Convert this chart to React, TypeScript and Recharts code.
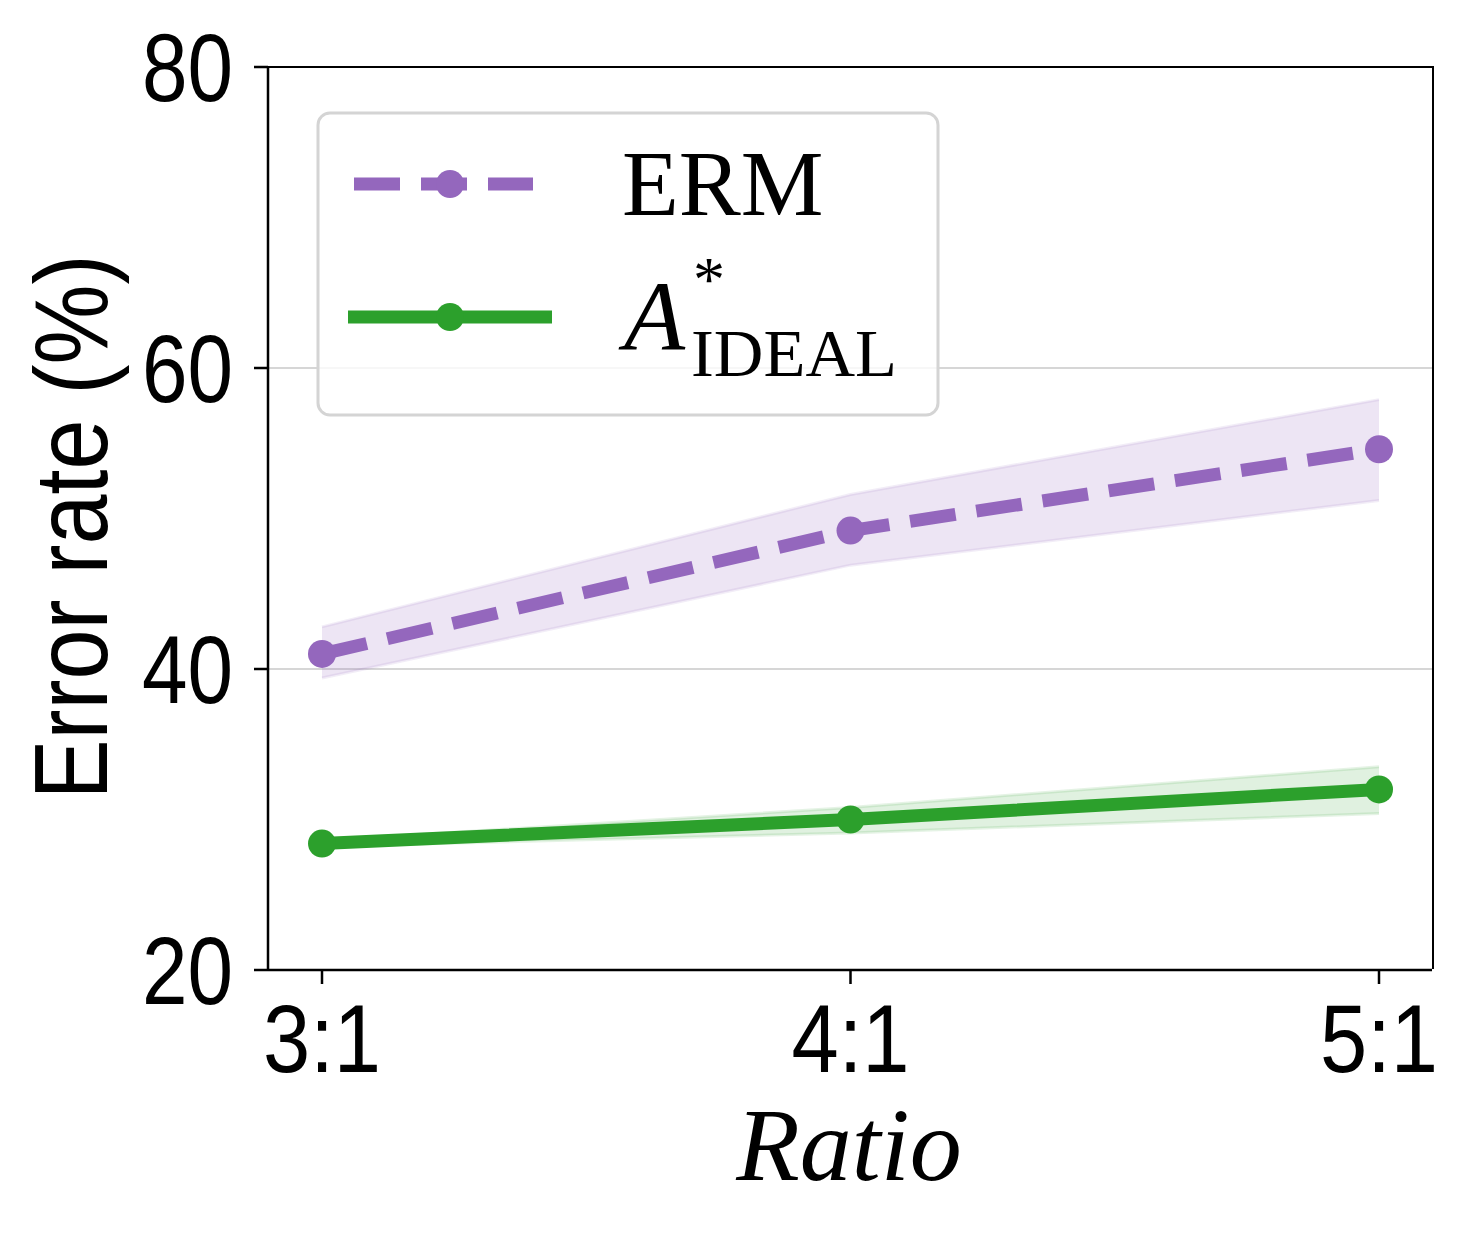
import React from 'react';
import {
  ComposedChart,
  Line,
  Area,
  XAxis,
  YAxis,
  CartesianGrid,
  Legend,
} from 'recharts';

const ratios = ['3:1', '4:1', '5:1'];
const ermMean = [41.0, 49.2, 54.6];
const ermLow = [39.4, 46.9, 51.2];
const ermHigh = [42.8, 51.6, 57.9];
const idealMean = [28.4, 30.0, 32.0];
const idealLow = [28.2, 29.1, 30.4];
const idealHigh = [28.6, 30.8, 33.5];
const yTicks = [20, 40, 60, 80];

const PURPLE = '#9467bd';
const GREEN = '#2ca02c';

const data = ratios.map((r, i) => ({
  ratio: r,
  erm: ermMean[i],
  ermBand: [ermLow[i], ermHigh[i]],
  ideal: idealMean[i],
  idealBand: [idealLow[i], idealHigh[i]],
}));

const SANS = '"Liberation Sans", Arial, sans-serif';
const SERIF = '"Liberation Serif", "Times New Roman", serif';

const YTick = (props: any) => {
  const { x, y, payload } = props;
  return (
    <text
      x={x}
      y={y}
      textAnchor="end"
      dominantBaseline="central"
      fontFamily={SANS}
      fontSize={97}
      fill="#000"
      textLength={91}
      lengthAdjust="spacingAndGlyphs"
    >
      {payload.value}
    </text>
  );
};

const XTick = (props: any) => {
  const { x, y, payload } = props;
  return (
    <text
      x={x}
      y={y + 68}
      textAnchor="middle"
      fontFamily={SANS}
      fontSize={97}
      fill="#000"
      textLength={118}
      lengthAdjust="spacingAndGlyphs"
    >
      {payload.value}
    </text>
  );
};

const LegendBox = () => (
  <svg width={626} height={308} style={{ display: 'block' }}>
    <rect
      x={2}
      y={2}
      width={620}
      height={302}
      rx={12}
      ry={12}
      fill="#ffffff"
      fillOpacity={0.8}
      stroke="#d4d4d4"
      strokeWidth={3}
    />
    <line x1={38} y1={73} x2={217} y2={73} stroke={PURPLE} strokeWidth={13} strokeDasharray="46 21" />
    <circle cx={134} cy={73} r={14} fill={PURPLE} />
    <text x={306} y={104} fontFamily={SERIF} fontSize={93} fill="#000">
      ERM
    </text>
    <line x1={32} y1={206} x2={236} y2={206} stroke={GREEN} strokeWidth={13} />
    <circle cx={134} cy={206} r={14} fill={GREEN} />
    <text fontFamily={SERIF} fill="#000">
      <tspan x={308} y={239} fontStyle="italic" fontSize={100}>A</tspan>
      <tspan x={377} y={190} fontSize={64}>*</tspan>
      <tspan x={375} y={265} fontSize={68} textLength={206} lengthAdjust="spacingAndGlyphs">IDEAL</tspan>
    </text>
  </svg>
);

const YLabel = () => (
  <text
    x={107}
    y={527}
    transform="rotate(-90 107 527)"
    textAnchor="middle"
    fontFamily={SANS}
    fontSize={104}
    fill="#000"
    textLength={545}
    lengthAdjust="spacingAndGlyphs"
  >
    Error rate (%)
  </text>
);

const XLabel = () => (
  <text
    x={849}
    y={1180}
    textAnchor="middle"
    fontFamily={SERIF}
    fontStyle="italic"
    fontSize={104}
    fill="#000"
  >
    Ratio
  </text>
);

export default function App() {
  return (
    <div style={{ position: 'absolute', left: 0, top: 0, width: 1471, height: 1236, background: '#fff' }}>
      <ComposedChart
        width={1471}
        height={1236}
        data={data}
        margin={{ top: 67, right: 39, bottom: 0, left: 0 }}
      >
        <CartesianGrid vertical={false} stroke="#d6d6d6" strokeWidth={2} />
        <XAxis
          dataKey="ratio"
          type="category"
          scale="point"
          padding={{ left: 54, right: 53 }}
          height={266}
          axisLine={{ stroke: '#000', strokeWidth: 2.5 }}
          tickLine={{ stroke: '#000', strokeWidth: 2.5 }}
          tickSize={14}
          tickMargin={20}
          tick={<XTick />}
          interval={0}
          label={<XLabel />}
        />
        <YAxis
          type="number"
          domain={[20, 80]}
          ticks={yTicks}
          width={268}
          axisLine={{ stroke: '#000', strokeWidth: 2.5 }}
          tickLine={{ stroke: '#000', strokeWidth: 2.5 }}
          tickSize={14}
          tickMargin={21}
          tick={<YTick />}
          interval={0}
          label={<YLabel />}
        />
        <Area
          dataKey="ermBand"
          type="linear"
          fill={PURPLE}
          fillOpacity={0.17}
          stroke={PURPLE}
          strokeOpacity={0.12}
          strokeWidth={3}
          isAnimationActive={false}
          legendType="none"
          activeDot={false}
        />
        <Area
          dataKey="idealBand"
          type="linear"
          fill={GREEN}
          fillOpacity={0.15}
          stroke={GREEN}
          strokeOpacity={0.12}
          strokeWidth={3}
          isAnimationActive={false}
          legendType="none"
          activeDot={false}
        />
        <Line
          dataKey="erm"
          type="linear"
          stroke={PURPLE}
          strokeWidth={13}
          strokeDasharray="46 21"
          dot={{ r: 14, fill: PURPLE, stroke: 'none', strokeWidth: 0 }}
          activeDot={false}
          isAnimationActive={false}
        />
        <Line
          dataKey="ideal"
          type="linear"
          stroke={GREEN}
          strokeWidth={13}
          dot={{ r: 14, fill: GREEN, stroke: 'none', strokeWidth: 0 }}
          activeDot={false}
          isAnimationActive={false}
        />
        <Legend
          layout="vertical"
          align="center"
          verticalAlign="middle"
          content={<LegendBox />}
          wrapperStyle={{ position: 'absolute', left: 316, top: 111, width: 626, height: 308 }}
        />
      </ComposedChart>
      <div
        style={{
          position: 'absolute',
          left: 267,
          top: 66,
          width: 1166.5,
          height: 903,
          borderTop: '2.5px solid #000',
          borderRight: '2.5px solid #000',
          boxSizing: 'border-box',
          pointerEvents: 'none',
        }}
      />
    </div>
  );
}
